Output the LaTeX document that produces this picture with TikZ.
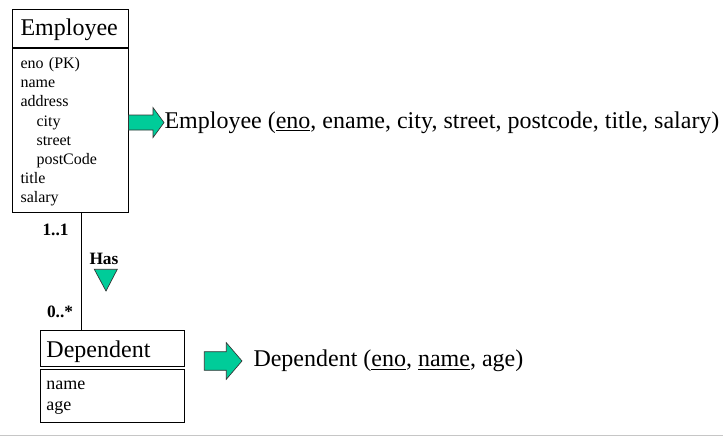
\documentclass[tikz,border=0pt]{standalone}
\usepackage{fontspec}
\setmainfont{Liberation Serif}
\usepackage[svgnames]{xcolor}
\usepackage{tikz}
\usetikzlibrary{positioning}
\definecolor{arrowgreen}{RGB}{0,204,153}

\begin{document}
\begin{tikzpicture}[
x=0.75pt, y=-0.75pt, line width=0.75pt,
headbox/.style = {draw, rectangle, anchor=north west, inner ysep=0pt, align=left},
attrbox/.style = {draw, rectangle, inner ysep=0pt, align=left},
reltext/.style = {anchor=base west, inner sep=0pt},
multlabel/.style = {anchor=base west, inner sep=0pt, font=\fontsize{13}{15}\selectfont\bfseries},
greenarrow/.style = {draw=black!80, line width=0.5pt, fill=arrowgreen}]
\tikzstyle{every node}=[font=\fontsize{18}{21.6}\selectfont]
\useasboundingbox (0,0) rectangle (723,436);
% entities
\node[headbox, inner xsep=5.8pt, text width=75.4pt, text height=19.3pt, text depth=8.6pt] (1) at (12.3,9.3) {Employee};
\node[attrbox, below=0pt of 1, inner xsep=5.8pt, text width=75.4pt, text height=15.4pt, text depth=108.2pt,
      font=\fontsize{12}{14.4}\selectfont] (2)
  {eno (PK)\\ name\\ address\\ \hspace*{12pt}city\\ \hspace*{12pt}street\\ \hspace*{12pt}postCode\\ title\\ salary};
\draw[line width=1.5pt] (1.south west) -- (1.south east);
\node[headbox, inner xsep=4.7pt, text width=98.6pt, text height=20.25pt, text depth=6.75pt] (3) at (39.7,329.7) {Dependent};
\node[attrbox, below=2pt of 3, inner xsep=4.7pt, text width=98.6pt, text height=15pt, text depth=24.3pt,
      font=\fontsize{13.5}{15.75}\selectfont] (4) {name\\ age};
% relations
\node[reltext] (5) at (164,128.3) {Employee (\underline{eno}, ename, city, street, postcode, title, salary)};
\node[reltext] (6) at (253,366.7) {Dependent (\underline{eno}, \underline{name}, age)};
% association
\coordinate (c) at (81.7,0);
\draw (2.south -| c) -- (3.north -| c);
\node[multlabel] (7) at (42,235.5) {1..1};
\node[multlabel] (8) at (89,264) {Has};
\node[multlabel] (9) at (46.5,317) {0..*};
\draw[greenarrow] (94.3,269.3) -- (117.3,269.3) -- (106,291) -- cycle;
% mapping arrows
\draw[greenarrow] (5.west) -- ++(-11,-15) -- ++(0,7.5) -- ++(-24.5,0) -- ++(0,15) -- ++(24.5,0) -- ++(0,7.5) -- cycle;
\draw[greenarrow] ([xshift=-8.25pt]6.west) -- ++(-15.7,-18.3) -- ++(0,9) -- ++(-22,0) -- ++(0,18.6) -- ++(22,0) -- ++(0,9) -- cycle;
\draw[gray!45] (0,435) -- (723,435);
\end{tikzpicture}
\end{document}
